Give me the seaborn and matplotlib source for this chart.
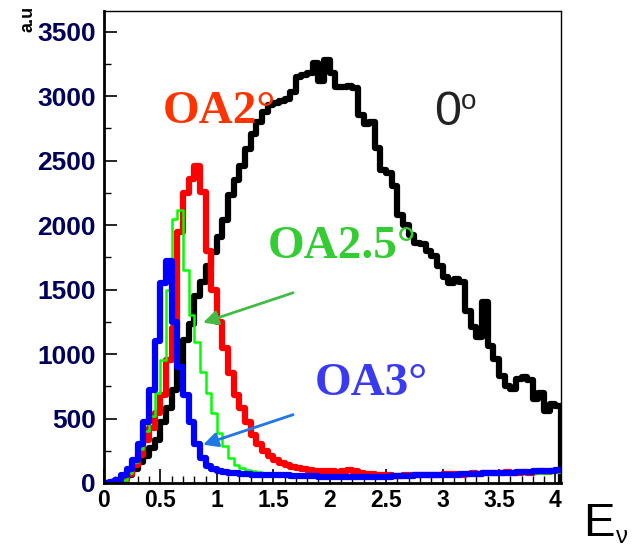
import numpy as np
import pandas as pd
import matplotlib
matplotlib.use("Agg")
import matplotlib.pyplot as plt
from matplotlib.ticker import MultipleLocator
import seaborn as sns

# ---------------- data ----------------
bin_width = 0.05
bin_lefts = np.round(np.arange(0, 4.0001, bin_width), 3)  # 81 bins 0.00..4.00

oa0_values = [0, 5, 15, 35, 65, 110, 160, 210, 270, 330,
              470, 580, 720, 900, 1110, 1230, 1450, 1560, 1680, 1790,
              1910, 2040, 2230, 2350, 2460, 2590, 2710, 2800, 2880, 2930,
              2950, 2960, 2980, 3030, 3150, 3160, 3180, 3260, 3120, 3280,
              3180, 3070, 3070, 3080, 3060, 2850, 2780, 2800, 2600, 2430,
              2400, 2300, 2080, 2000, 1920, 1860, 1850, 1800, 1760, 1680,
              1600, 1550, 1580, 1560, 1330, 1210, 1130, 1400, 1060, 960,
              830, 750, 730, 810, 820, 800, 650, 700, 560, 610,
              600]

oa2_values = [0, 0, 3, 20, 70, 140, 220, 330, 430, 540,
              680, 950, 1200, 1950, 2250, 2360, 2460, 2260, 1800, 1500,
              1250, 1050, 850, 680, 580, 470, 370, 300, 250, 210,
              180, 155, 140, 125, 115, 110, 100, 95, 95, 90,
              90, 85, 95, 100, 95, 80, 70, 70, 65, 60,
              60, 55, 55, 60, 60, 65, 65, 65, 60, 65,
              70, 70, 70, 65, 70, 75, 70, 75, 80, 75,
              80, 85, 80, 80, 85, 80, 85, 90, 85, 90,
              95]

oa25_values = [0, 0, 3, 25, 80, 160, 260, 400, 520, 700,
               950, 1500, 2050, 2120, 1650, 1300, 1090, 860, 700, 540,
               390, 290, 190, 140, 120, 100, 90, 85, 80, 75,
               70, 65, 65, 60, 60, 60, 55, 55, 55, 50,
               50, 50, 50, 50, 50, 50, 50, 50, 50, 50,
               50, 50, 50, 55, 55, 55, 55, 55, 60, 60,
               60, 60, 60, 65, 65, 65, 65, 70, 70, 70,
               70, 70, 75, 75, 75, 80, 80, 80, 80, 85,
               85]

oa3_values = [0, 5, 25, 60, 110, 180, 300, 470, 720, 1100,
              1550, 1720, 1250, 900, 680, 470, 300, 190, 130, 110,
              95, 85, 80, 75, 70, 70, 65, 65, 65, 60,
              60, 60, 60, 55, 55, 55, 55, 55, 50, 50,
              50, 50, 50, 50, 50, 50, 50, 50, 50, 50,
              50, 55, 55, 55, 55, 60, 60, 60, 60, 60,
              65, 65, 65, 70, 70, 70, 70, 75, 75, 75,
              80, 80, 80, 85, 85, 85, 90, 90, 95, 95,
              100]

y_ticks = [0, 500, 1000, 1500, 2000, 2500, 3000, 3500]
x_ticks = [0, 0.5, 1, 1.5, 2, 2.5, 3, 3.5, 4]
x_tick_labels = ["0", "0.5", "1", "1.5", "2", "2.5", "3", "3.5", "4"]

# ---------------- style ----------------
sns.set_theme(style="white")
plt.rcParams["font.family"] = ["Liberation Sans", "DejaVu Sans"]

fig = plt.figure(figsize=(6.38, 5.49), dpi=100)
ax = fig.add_axes([104 / 638, 1 - 483 / 549, (561 - 104) / 638, (483 - 11) / 549])

edges = np.round(np.append(bin_lefts, bin_lefts[-1] + bin_width), 3)
centers = bin_lefts + bin_width / 2

# black histogram gets one extra empty bin so it drops to zero at the edge
edges_ext = np.round(np.append(edges, edges[-1] + bin_width), 3)
centers_ext = np.append(centers, centers[-1] + bin_width)

df0 = pd.DataFrame({"E": centers_ext, "w": list(oa0_values) + [0]})
df2 = pd.DataFrame({"E": centers, "w": oa2_values})
df25 = pd.DataFrame({"E": centers, "w": oa25_values})
df3 = pd.DataFrame({"E": centers, "w": oa3_values})

sns.histplot(data=df0, x="E", weights="w", bins=list(edges_ext),
             element="step", fill=False, color="black", linewidth=4.5, ax=ax)
sns.histplot(data=df2, x="E", weights="w", bins=list(edges),
             element="step", fill=False, color="#ff0000", linewidth=4.5, ax=ax)
sns.histplot(data=df25, x="E", weights="w", bins=list(edges),
             element="step", fill=False, color="#00ff00", linewidth=1.8, ax=ax)
sns.histplot(data=df3, x="E", weights="w", bins=list(edges),
             element="step", fill=False, color="#0000ff", linewidth=4.5, ax=ax)

ax.set_xlim(0, 4.05)
ax.set_ylim(0, 3660)
ax.set_xlabel("")
ax.set_ylabel("")

ax.set_yticks(y_ticks)
ax.set_yticklabels([str(v) for v in y_ticks], fontsize=19, fontweight="bold", color="#00005a")
ax.set_xticks(x_ticks)
ax.set_xticklabels(x_tick_labels, fontsize=16.5, fontweight="bold", color="black")
ax.yaxis.set_minor_locator(MultipleLocator(250))
ax.xaxis.set_minor_locator(MultipleLocator(0.1))
ax.tick_params(axis="both", which="both", direction="in", top=False, right=False,
               left=True, bottom=True, color="black")
ax.tick_params(axis="y", which="major", length=9, width=1.2, pad=6)
ax.tick_params(axis="y", which="minor", length=5, width=1.0)
ax.tick_params(axis="x", which="major", length=10, width=1.2, pad=4)
ax.tick_params(axis="x", which="minor", length=5, width=1.0)

for side in ["left", "bottom"]:
    ax.spines[side].set_linewidth(2.0)
    ax.spines[side].set_color("black")
for side in ["top", "right"]:
    ax.spines[side].set_linewidth(1.0)
    ax.spines[side].set_color("black")

# ---------------- annotations ----------------
serif = ["Liberation Serif", "DejaVu Serif"]
ax.text(0.52, 2793, "OA2°", color="#ff3300", fontsize=34, fontweight="bold",
        family=serif, ha="left", va="baseline")
ax.text(1.45, 1747, "OA2.5°", color="#33cc33", fontsize=34, fontweight="bold",
        family=serif, ha="left", va="baseline")
ax.text(1.87, 685, "OA3°", color="#3a3af0", fontsize=34, fontweight="bold",
        family=serif, ha="left", va="baseline")
ax.text(2.93, 2777, "0", color="#222222", fontsize=35, ha="left", va="baseline")
ax.text(3.16, 2900, "o", color="#222222", fontsize=20, ha="left", va="baseline")

ax.annotate("", xy=(0.878, 1243), xytext=(1.676, 1475),
            arrowprops=dict(arrowstyle="-|>", color="#44bb44", lw=2.0,
                            mutation_scale=22, shrinkA=0, shrinkB=0))
ax.annotate("", xy=(0.878, 297), xytext=(1.676, 530),
            arrowprops=dict(arrowstyle="-|>", color="#1e78e6", lw=2.0,
                            mutation_scale=22, shrinkA=0, shrinkB=0))

# axis titles
fig.text(583 / 638, 1 - 536 / 549, "E", fontsize=34, color="black",
         ha="left", va="baseline")
fig.text(616 / 638, 1 - 543 / 549, "ν", fontsize=17, color="black",
         ha="left", va="baseline")
fig.text(28 / 638, 1 - 19 / 549, "a.u", fontsize=13, fontweight="bold",
         rotation=90, ha="center", va="center", color="black")

fig.savefig("out.png", dpi=100)
